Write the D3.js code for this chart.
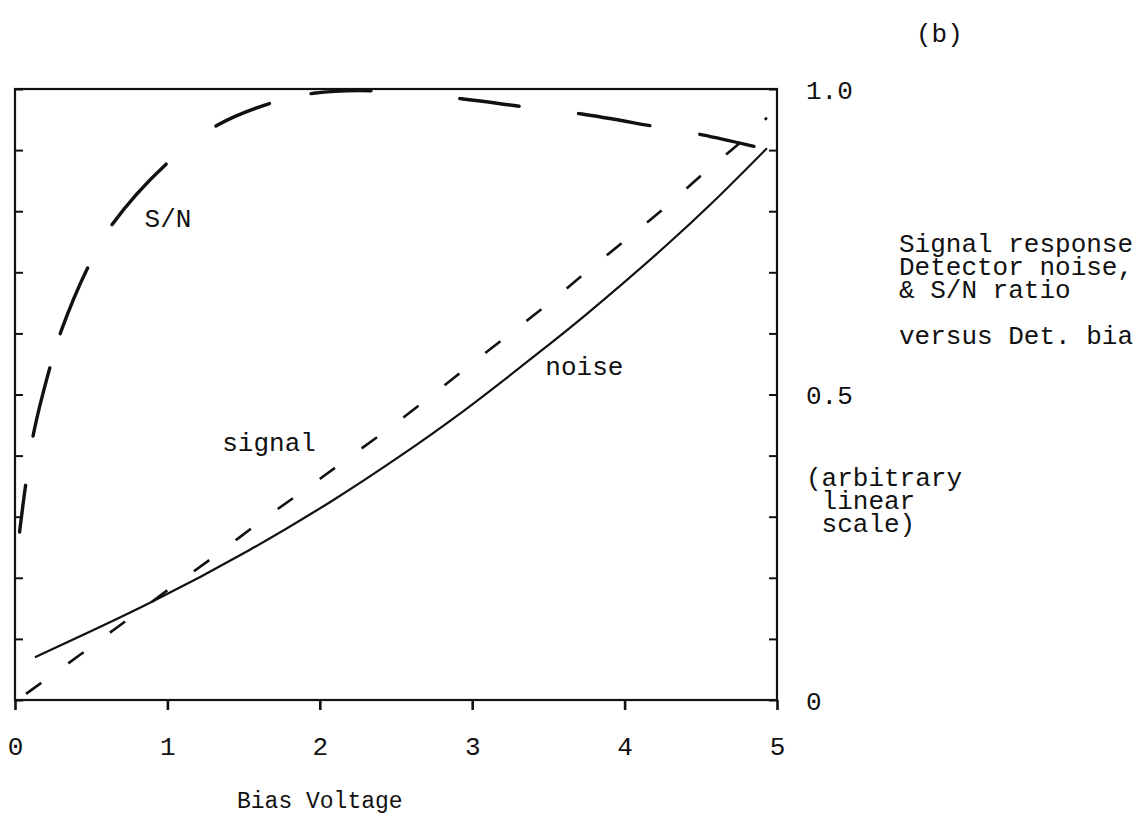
<!DOCTYPE html>
<html>
<head>
<meta charset="utf-8">
<script src="https://cdn.jsdelivr.net/npm/d3@7"></script>
<style>
  body { margin: 0; background: #fff; }
  text { font-family: "Liberation Mono", "DejaVu Sans Mono", monospace; fill: #111; white-space: pre; }
</style>
</head>
<body>
<svg id="chart" width="1136" height="827"></svg>
<script>
// Bias voltage axis
const biasTicks = [0, 1, 2, 3, 4, 5];
const biasTickLabels = ["0", "1", "2", "3", "4", "5"];

// Relative amplitude axis (arbitrary linear scale)
const levelTicks = [0, 0.1, 0.2, 0.3, 0.4, 0.5, 0.6, 0.7, 0.8, 0.9, 1.0];
const levelLabelValues = [0, 0.5, 1.0];
const levelLabels = ["0", "0.5", "1.0"];

// Detector noise (solid curve)
const noiseBias  = [0.131, 0.886, 1.542, 2.087, 2.526, 2.900, 3.445, 3.753, 4.278, 4.580, 4.934];
const noiseLevel = [0.070, 0.159, 0.246, 0.327, 0.399, 0.465, 0.570, 0.632, 0.745, 0.815, 0.903];

// Signal response (short-dash curve)
const signalBias  = [0.072, 0.427, 0.676, 1.030, 1.286, 1.654, 1.929, 2.198, 2.526, 3.071, 3.491, 3.727, 3.983, 4.232, 4.528, 4.757, 4.934];
const signalLevel = [0.010, 0.074, 0.120, 0.185, 0.231, 0.300, 0.349, 0.398, 0.458, 0.565, 0.647, 0.696, 0.748, 0.799, 0.864, 0.912, 0.953];

// Signal-to-noise ratio (long-dash curve)
const snrBias  = [0.03, 0.07, 0.12, 0.23, 0.30, 0.48, 0.64, 1.00, 1.33, 1.68, 1.96, 2.35, 2.93, 3.33, 3.72, 4.19, 4.51, 4.87];
const snrLevel = [0.275, 0.352, 0.434, 0.545, 0.602, 0.709, 0.779, 0.879, 0.941, 0.977, 0.993, 0.997, 0.984, 0.971, 0.959, 0.939, 0.925, 0.905];

// Annotation text
const curveLabels = [
  { text: "S/N",    bias: 0.85, level: 0.774 },
  { text: "signal", bias: 1.36, level: 0.408 },
  { text: "noise",  bias: 3.48, level: 0.532 }
];
const sideNote = ["Signal response", "Detector noise,", "& S/N ratio", "", "versus Det. bia"];
const scaleNote = ["(arbitrary", " linear", " scale)"];
const panelTag = "(b)";
const xTitle = "Bias Voltage";

const svg = d3.select("#chart");
const frame = { left: 15, right: 777, top: 89, bottom: 700 };

const x = d3.scaleLinear().domain([0, 5]).range([frame.left, frame.right]);
const y = d3.scaleLinear().domain([0, 1]).range([frame.bottom, frame.top]);

const fontSize = 26;

// Frame
svg.append("rect")
  .attr("x", frame.left).attr("y", frame.top)
  .attr("width", frame.right - frame.left).attr("height", frame.bottom - frame.top)
  .attr("fill", "none").attr("stroke", "#111").attr("stroke-width", 2.2);

// Bottom axis: outward ticks with labels below
const xAxis = svg.append("g")
  .attr("transform", `translate(0,${frame.bottom})`)
  .call(d3.axisBottom(x).tickValues(biasTicks).tickFormat((d, i) => biasTickLabels[i])
        .tickSize(10).tickPadding(27));
xAxis.select(".domain").remove();
xAxis.selectAll(".tick line").attr("stroke", "#111").attr("stroke-width", 2.6);
xAxis.selectAll(".tick text").attr("font-size", fontSize).attr("font-family", null);

// Left axis: inward ticks, no labels
const yLeft = svg.append("g")
  .attr("transform", `translate(${frame.left},0)`)
  .call(d3.axisLeft(y).tickValues(levelTicks).tickSize(-8).tickFormat(""));
yLeft.select(".domain").remove();
yLeft.selectAll(".tick line").attr("stroke", "#111").attr("stroke-width", 2);

// Right axis: inward ticks
const yRight = svg.append("g")
  .attr("transform", `translate(${frame.right},0)`)
  .call(d3.axisRight(y).tickValues(levelTicks).tickSize(-8).tickFormat(""));
yRight.select(".domain").remove();
yRight.selectAll(".tick line").attr("stroke", "#111").attr("stroke-width", 2);

// Right axis labels
const yLabels = svg.append("g")
  .attr("transform", `translate(${frame.right},0)`)
  .call(d3.axisRight(y).tickValues(levelLabelValues).tickFormat((d, i) => levelLabels[i])
        .tickSize(0).tickPadding(29));
yLabels.select(".domain").remove();
yLabels.selectAll(".tick text").attr("font-size", fontSize).attr("font-family", null)
  .attr("dy", "0.35em");

// Curves
const line = d3.line()
  .x(d => x(d[0]))
  .y(d => y(d[1]))
  .curve(d3.curveCatmullRom.alpha(0.5));

const noisePts = d3.zip(noiseBias, noiseLevel);
const signalPts = d3.zip(signalBias, signalLevel);
const snrPts = d3.zip(snrBias, snrLevel);

svg.append("path").datum(noisePts)
  .attr("d", line).attr("fill", "none").attr("stroke", "#111")
  .attr("stroke-width", 2.2);

svg.append("path").datum(signalPts)
  .attr("d", line).attr("fill", "none").attr("stroke", "#111")
  .attr("stroke-width", 2.6).attr("stroke-dasharray", "19,33");

svg.append("path").datum(snrPts)
  .attr("d", line).attr("fill", "none").attr("stroke", "#111")
  .attr("stroke-width", 3.4).attr("stroke-linecap", "round")
  .attr("stroke-dasharray", "47,50,70,36,71,50,81,63,58,43,60,89,60,60,72,51,55");

// Curve labels
svg.append("g").selectAll("text").data(curveLabels).join("text")
  .attr("x", d => x(d.bias)).attr("y", d => y(d.level))
  .attr("font-size", fontSize)
  .text(d => d.text);

// Panel tag
svg.append("text").attr("x", 916).attr("y", 42).attr("font-size", fontSize).text(panelTag);

// Side annotation
svg.append("g").selectAll("text").data(sideNote).join("text")
  .attr("x", 899).attr("y", (d, i) => 252 + i * 23)
  .attr("font-size", fontSize)
  .text(d => d);

svg.append("g").selectAll("text").data(scaleNote).join("text")
  .attr("x", 806).attr("y", (d, i) => 486 + i * 23)
  .attr("font-size", fontSize)
  .text(d => d);

// Axis title
svg.append("text").attr("x", x(2)).attr("y", 808)
  .attr("text-anchor", "middle").attr("font-size", 23)
  .text(xTitle);
</script>
</body>
</html>
